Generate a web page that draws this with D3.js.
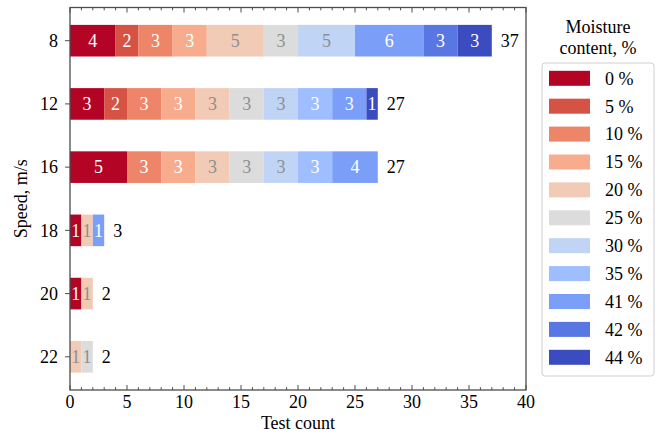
<!DOCTYPE html>
<html>
<head>
<meta charset="utf-8">
<script src="https://cdn.jsdelivr.net/npm/d3@7"></script>
<style>
  html, body { margin: 0; padding: 0; background: #fff; }
</style>
</head>
<body>
<svg id="chart" width="664" height="441"></svg>
<script>
// Speeds (m/s), one bar each
const speeds = ["8", "12", "16", "18", "20", "22"];
// Moisture content groups
const moistureLabels = ["0 %", "5 %", "10 %", "15 %", "20 %", "25 %", "30 %", "35 %", "41 %", "42 %", "44 %"];
const moistureColors = ["#b40426", "#d65244", "#ee8468", "#f7ac8e", "#f2cbb7", "#dddcdc",
                        "#c0d4f5", "#9ebeff", "#7b9ff9", "#5977e3", "#3b4cc0"];
// Test counts per speed, in moisture order
const counts8  = [4, 2, 3, 3, 5, 3, 5, 0, 6, 3, 3];
const counts12 = [3, 2, 3, 3, 3, 3, 3, 3, 3, 0, 1];
const counts16 = [5, 0, 3, 3, 3, 3, 3, 3, 4, 0, 0];
const counts18 = [1, 0, 0, 0, 1, 0, 0, 0, 1, 0, 0];
const counts20 = [1, 0, 0, 0, 1, 0, 0, 0, 0, 0, 0];
const counts22 = [0, 0, 0, 0, 1, 1, 0, 0, 0, 0, 0];
const xTicks = [0, 5, 10, 15, 20, 25, 30, 35, 40];

const rows = [counts8, counts12, counts16, counts18, counts20, counts22];
// Segments whose labels are drawn in grey rather than white
const greyLabel = new Set(["20 %", "25 %", "30 %"]);

const svg = d3.select("#chart");
const plotLeft = 70, plotRight = 526, plotTop = 7.5, plotBottom = 390;
const fs = 18;
const serif = "Liberation Serif";

// All text shares the same serif face
function label(parent) {
  return parent.append("text").style("font-family", serif).attr("font-size", fs);
}

const x = d3.scaleLinear().domain([0, 40]).range([plotLeft, plotRight]);
const y = d3.scaleBand().domain(speeds).range([plotTop, plotBottom])
  .paddingInner(0.5).paddingOuter(0.275);

const stackData = speeds.map((s, i) => {
  const o = { speed: s };
  moistureLabels.forEach((m, j) => { o[m] = rows[i][j]; });
  return o;
});
const series = d3.stack().keys(moistureLabels)(stackData);

const g = svg.append("g");
series.forEach((ser, j) => {
  ser.forEach(d => {
    const v = d[1] - d[0];
    if (v <= 0) return;
    const yy = y(d.data.speed);
    g.append("rect")
      .attr("x", x(d[0])).attr("y", yy)
      .attr("width", x(d[1]) - x(d[0])).attr("height", y.bandwidth())
      .attr("fill", moistureColors[j]);
    label(g)
      .attr("x", (x(d[0]) + x(d[1])) / 2)
      .attr("y", yy + y.bandwidth() / 2)
      .attr("dy", "0.35em")
      .attr("text-anchor", "middle")
      .attr("fill", greyLabel.has(ser.key) ? "#8f8f8f" : "#ffffff")
      .text(v);
  });
});

// Totals at the end of each bar
stackData.forEach((d, i) => {
  const total = d3.sum(rows[i]);
  label(g)
    .attr("x", x(total) + 9)
    .attr("y", y(d.speed) + y.bandwidth() / 2)
    .attr("dy", "0.35em")
    .attr("fill", "#000")
    .text(total);
});

// Frame and ticks
const axisColor = "#4d4d4d";
const minor = d3.range(0, 41, 1);
const ax = svg.append("g");
minor.forEach(v => {
  const major = v % 5 === 0;
  const len = major ? 5 : 2.8;
  ax.append("line").attr("x1", x(v)).attr("x2", x(v))
    .attr("y1", plotBottom).attr("y2", plotBottom - len)
    .attr("stroke", axisColor).attr("stroke-width", 1);
  ax.append("line").attr("x1", x(v)).attr("x2", x(v))
    .attr("y1", plotTop).attr("y2", plotTop + len)
    .attr("stroke", axisColor).attr("stroke-width", 1);
});
xTicks.forEach(v => {
  label(ax).attr("x", x(v)).attr("y", plotBottom + 18)
    .attr("text-anchor", "middle").attr("fill", "#000")
    .text(v);
});
speeds.forEach(s => {
  const yy = y(s) + y.bandwidth() / 2;
  ax.append("line").attr("x1", plotLeft).attr("x2", plotLeft - 5)
    .attr("y1", yy).attr("y2", yy)
    .attr("stroke", axisColor).attr("stroke-width", 1);
  label(ax).attr("x", plotLeft - 12).attr("y", yy).attr("dy", "0.35em")
    .attr("text-anchor", "end").attr("fill", "#000")
    .text(s);
});
ax.append("rect").attr("x", plotLeft).attr("y", plotTop)
  .attr("width", plotRight - plotLeft).attr("height", plotBottom - plotTop)
  .attr("fill", "none").attr("stroke", axisColor).attr("stroke-width", 1.3);

// Axis titles
label(svg).attr("x", (plotLeft + plotRight) / 2).attr("y", 428.5)
  .attr("text-anchor", "middle").text("Test count");
label(svg)
  .attr("transform", `translate(27,${(plotTop + plotBottom) / 2}) rotate(-90)`)
  .attr("text-anchor", "middle").text("Speed, m/s");

// Legend
const lg = svg.append("g");
label(lg).attr("x", 598).attr("y", 33).attr("text-anchor", "middle").text("Moisture");
label(lg).attr("x", 598).attr("y", 54).attr("text-anchor", "middle").text("content, %");
lg.append("rect").attr("x", 542).attr("y", 63).attr("width", 112).attr("height", 313)
  .attr("rx", 3).attr("fill", "#fff").attr("stroke", "#d0d0d0").attr("stroke-width", 1);
const ly = d3.scalePoint().domain(moistureLabels).range([78.3, 357.3]);
moistureLabels.forEach((m, j) => {
  lg.append("rect").attr("x", 549).attr("y", ly(m) - 7.5)
    .attr("width", 41).attr("height", 15).attr("fill", moistureColors[j]);
  label(lg).attr("x", 605).attr("y", ly(m)).attr("dy", "0.35em").text(m);
});
</script>
</body>
</html>
